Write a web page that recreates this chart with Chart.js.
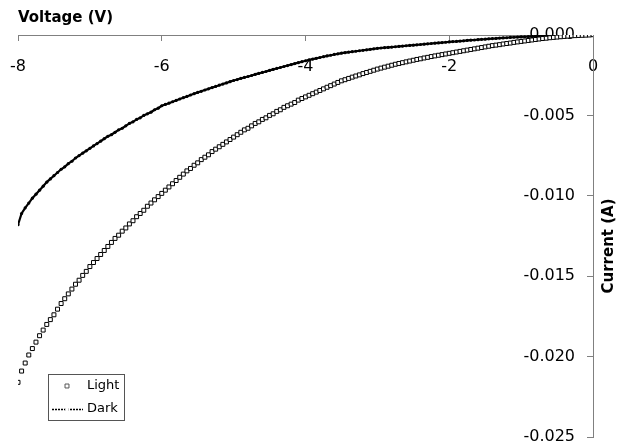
<!DOCTYPE html>
<html><head><meta charset="utf-8">
<script src="https://cdn.jsdelivr.net/npm/chart.js@4.4.0/dist/chart.umd.min.js"></script>
<style>html,body{margin:0;padding:0;background:#fff;overflow:hidden}canvas{display:block}</style>
</head><body>
<canvas id="c" width="623" height="447"></canvas>
<script>
// ---- data ----
const voltage = [
 -8.00,-7.95,-7.90,-7.85,-7.80,-7.75,-7.70,-7.65,-7.60,-7.55,-7.50,-7.45,-7.40,-7.35,-7.30,-7.25,-7.20,-7.15,-7.10,-7.05,
 -7.00,-6.95,-6.90,-6.85,-6.80,-6.75,-6.70,-6.65,-6.60,-6.55,-6.50,-6.45,-6.40,-6.35,-6.30,-6.25,-6.20,-6.15,-6.10,-6.05,
 -6.00,-5.95,-5.90,-5.85,-5.80,-5.75,-5.70,-5.65,-5.60,-5.55,-5.50,-5.45,-5.40,-5.35,-5.30,-5.25,-5.20,-5.15,-5.10,-5.05,
 -5.00,-4.95,-4.90,-4.85,-4.80,-4.75,-4.70,-4.65,-4.60,-4.55,-4.50,-4.45,-4.40,-4.35,-4.30,-4.25,-4.20,-4.15,-4.10,-4.05,
 -4.00,-3.95,-3.90,-3.85,-3.80,-3.75,-3.70,-3.65,-3.60,-3.55,-3.50,-3.45,-3.40,-3.35,-3.30,-3.25,-3.20,-3.15,-3.10,-3.05,
 -3.00,-2.95,-2.90,-2.85,-2.80,-2.75,-2.70,-2.65,-2.60,-2.55,-2.50,-2.45,-2.40,-2.35,-2.30,-2.25,-2.20,-2.15,-2.10,-2.05,
 -2.00,-1.95,-1.90,-1.85,-1.80,-1.75,-1.70,-1.65,-1.60,-1.55,-1.50,-1.45,-1.40,-1.35,-1.30,-1.25,-1.20,-1.15,-1.10,-1.05,
 -1.00,-0.95,-0.90,-0.85,-0.80,-0.75,-0.70,-0.65,-0.60,-0.55,-0.50,-0.45,-0.40,-0.35,-0.30,-0.25,-0.20,-0.15,-0.10,-0.05,
 0.00];

const lightCurrent = [
 -0.0216,-0.0209,-0.0204,-0.0199,-0.0195,-0.0191,-0.0187,-0.01835,-0.0180,-0.0177,-0.0174,-0.01705,-0.0167,-0.0164,-0.0161,-0.0158,-0.0155,-0.01525,-0.01495,-0.0147,
 -0.0144,-0.01415,-0.0139,-0.01365,-0.0134,-0.01315,-0.0129,-0.01265,-0.01245,-0.0122,-0.0120,-0.01175,-0.01155,-0.0113,-0.0111,-0.0109,-0.01065,-0.01045,-0.01025,-0.01005,
 -0.00985,-0.00965,-0.00945,-0.00925,-0.00905,-0.00885,-0.00865,-0.00845,-0.0083,-0.0081,-0.00795,-0.00775,-0.0076,-0.00745,-0.00725,-0.0071,-0.00695,-0.0068,-0.00665,-0.0065,
 -0.00635,-0.0062,-0.00605,-0.0059,-0.0058,-0.00565,-0.0055,-0.0054,-0.00525,-0.00515,-0.0050,-0.0049,-0.00475,-0.00465,-0.0045,-0.0044,-0.0043,-0.0042,-0.00405,-0.00395,
 -0.00385,-0.00375,-0.00365,-0.00355,-0.00345,-0.00335,-0.00325,-0.00315,-0.00305,-0.00295,-0.00285,-0.00278,-0.0027,-0.00262,-0.00255,-0.00248,-0.0024,-0.00233,-0.00226,-0.00219,
 -0.00212,-0.00206,-0.0020,-0.00194,-0.00188,-0.00182,-0.00177,-0.00172,-0.00167,-0.00162,-0.00157,-0.00152,-0.00148,-0.00143,-0.00139,-0.00134,-0.0013,-0.00126,-0.00122,-0.00118,
 -0.00114,-0.0011,-0.00106,-0.00102,-0.00098,-0.00094,-0.0009,-0.00086,-0.00082,-0.00078,-0.00074,-0.0007,-0.00066,-0.00063,-0.0006,-0.00056,-0.00053,-0.0005,-0.00046,-0.00043,
 -0.0004,-0.00037,-0.00034,-0.00031,-0.00028,-0.00025,-0.00022,-0.0002,-0.00017,-0.00015,-0.00013,-0.00011,-0.00009,-0.00007,-0.00005,-0.00004,-0.00003,-0.00002,-0.00001,0,
 0.00002];

const darkCurrent = [
 -0.0118,-0.0111,-0.01075,-0.01045,-0.01015,-0.0099,-0.00965,-0.0094,-0.00915,-0.00895,-0.00875,-0.00855,-0.00835,-0.0082,-0.0080,-0.00785,-0.00765,-0.0075,-0.00735,-0.0072,
 -0.00705,-0.0069,-0.00675,-0.0066,-0.00645,-0.0063,-0.0062,-0.00605,-0.0059,-0.0058,-0.00565,-0.0055,-0.0054,-0.00525,-0.00515,-0.0050,-0.0049,-0.0048,-0.00465,-0.00455,
 -0.0044,-0.00432,-0.00424,-0.00415,-0.00407,-0.00398,-0.0039,-0.00382,-0.00373,-0.00365,-0.00357,-0.0035,-0.00342,-0.00335,-0.00327,-0.0032,-0.00312,-0.00305,-0.00298,-0.0029,
 -0.00283,-0.00277,-0.0027,-0.00264,-0.00258,-0.00252,-0.00245,-0.00239,-0.00233,-0.00227,-0.0022,-0.00214,-0.00208,-0.00202,-0.00196,-0.0019,-0.00184,-0.00178,-0.00172,-0.00166,
 -0.0016,-0.00155,-0.0015,-0.00145,-0.0014,-0.00135,-0.0013,-0.00126,-0.00121,-0.00117,-0.00113,-0.0011,-0.00107,-0.00104,-0.00101,-0.00098,-0.00095,-0.00092,-0.00089,-0.00086,
 -0.00083,-0.00081,-0.00079,-0.00077,-0.00075,-0.00073,-0.00071,-0.00069,-0.00067,-0.00065,-0.00063,-0.00061,-0.00059,-0.00057,-0.00055,-0.00053,-0.00051,-0.00049,-0.00047,-0.00045,
 -0.00043,-0.00041,-0.0004,-0.00038,-0.00036,-0.00034,-0.00032,-0.00031,-0.00029,-0.00027,-0.00026,-0.00024,-0.00022,-0.00021,-0.00019,-0.00018,-0.00017,-0.00015,-0.00014,-0.00013,
 -0.00012,-0.00011,-0.0001,-0.00009,-0.00008,-0.00007,-0.00006,-0.00005,-0.00005,-0.00004,-0.00003,-0.00003,-0.00002,-0.00002,-0.00001,-0.00001,0,0,0,0.00001,
 0.00002];

const seriesNames = ['Light', 'Dark'];
const xTickValues = [-8, -6, -4, -2, 0];
const yTickValues = [0, -0.005, -0.010, -0.015, -0.020, -0.025];
const xAxisTitle = 'Voltage (V)';
const yAxisTitle = 'Current (A)';

// ---- styling ----
const FONT = '"DejaVu Sans", sans-serif';
const GRAY = '#808080';

const lightStyle = {pointStyle:'rect', radius:2.8, borderWidth:1, borderColor:'#000', backgroundColor:'#fff', rotation:0};

const boxLegend = {
  id: 'boxLegend',
  afterDraw(chart) {
    const ctx = chart.ctx;
    const x0 = 48, y0 = 374, w = 76, h = 46;
    ctx.save();
    ctx.fillStyle = '#fff';
    ctx.fillRect(x0, y0, w, h);
    ctx.strokeStyle = '#555';
    ctx.lineWidth = 1;
    ctx.strokeRect(x0 + 0.5, y0 + 0.5, w, h);
    Chart.helpers.drawPoint(ctx, lightStyle, 67, 386);
    ctx.strokeStyle = '#000';
    ctx.lineWidth = 1.5;
    ctx.setLineDash([2, 1]);
    ctx.beginPath(); ctx.moveTo(52, 409.5); ctx.lineTo(83, 409.5); ctx.stroke();
    ctx.setLineDash([]);
    Chart.helpers.drawPoint(ctx, {pointStyle:'circle', radius:1.8, borderWidth:0, borderColor:'#000', backgroundColor:'#000', rotation:0}, 67, 409.5);
    ctx.fillStyle = '#000';
    ctx.font = '13px ' + FONT;
    ctx.textAlign = 'left';
    ctx.textBaseline = 'middle';
    ctx.fillText(seriesNames[0], 87, 386);
    ctx.fillText(seriesNames[1], 87, 409);
    ctx.restore();
  }
};

const yTitlePlugin = {
  id: 'yTitle',
  afterDraw(chart) {
    const ctx = chart.ctx;
    const ys = chart.scales.y;
    const cy = (ys.top + ys.bottom) / 2 + 10;
    ctx.save();
    ctx.translate(609, cy);
    ctx.rotate(-Math.PI / 2);
    ctx.fillStyle = '#000';
    ctx.font = 'bold 15px ' + FONT;
    ctx.textAlign = 'center';
    ctx.textBaseline = 'middle';
    ctx.fillText(yAxisTitle, 0, 0);
    ctx.restore();
  }
};

new Chart(document.getElementById('c'), {
  type: 'line',
  data: {
    datasets: [
      {
        label: seriesNames[0],
        data: voltage.map((v, i) => ({x: v, y: lightCurrent[i]})),
        showLine: false,
        pointStyle: 'rect', pointRadius: 2.8, pointBorderWidth: 1,
        pointBorderColor: '#000', pointBackgroundColor: '#fff',
        borderColor: '#000', backgroundColor: '#fff'
      },
      {
        label: seriesNames[1],
        data: voltage.map((v, i) => ({x: v, y: darkCurrent[i]})),
        showLine: true, borderColor: '#000', borderWidth: 2.2, tension: 0,
        pointStyle: 'circle', pointRadius: 1.6, pointBorderWidth: 0,
        pointBackgroundColor: '#000', backgroundColor: '#000'
      }
    ]
  },
  options: {
    responsive: false, animation: false, devicePixelRatio: 1, events: [],
    layout: {padding: {left: 18, right: 0, top: 0, bottom: 10}},
    plugins: {legend: {display: false}, tooltip: {enabled: false}},
    scales: {
      x: {
        type: 'linear', position: 'top', min: -8, max: 0,
        afterBuildTicks: s => { s.ticks = xTickValues.map(v => ({value: v})); },
        afterFit: s => { s.height = 35; s.paddingLeft = 0; s.paddingRight = 0; },
        ticks: {mirror: true, padding: 22, color: '#000', font: {family: FONT, size: 16}, maxRotation: 0, autoSkip: false},
        grid: {drawOnChartArea: false, tickLength: -6, color: GRAY, lineWidth: 1},
        border: {color: GRAY, width: 1},
        title: {display: true, text: xAxisTitle, align: 'start', color: '#000',
                font: {family: FONT, size: 15, weight: 'bold'}, padding: {top: 9, bottom: 0}}
      },
      y: {
        type: 'linear', position: 'right', min: -0.025, max: 0,
        afterBuildTicks: s => { s.ticks = yTickValues.map(v => ({value: v})); },
        afterFit: s => { s.width = 30; s.paddingTop = 0; s.paddingBottom = 0; },
        ticks: {mirror: true, padding: -18, color: '#000', font: {family: FONT, size: 16},
                callback: v => v.toFixed(3), autoSkip: false},
        grid: {drawOnChartArea: false, tickLength: -6, color: GRAY, lineWidth: 1},
        border: {color: GRAY, width: 1},
        title: {display: false}
      }
    }
  },
  plugins: [boxLegend, yTitlePlugin]
});
</script>
</body></html>
